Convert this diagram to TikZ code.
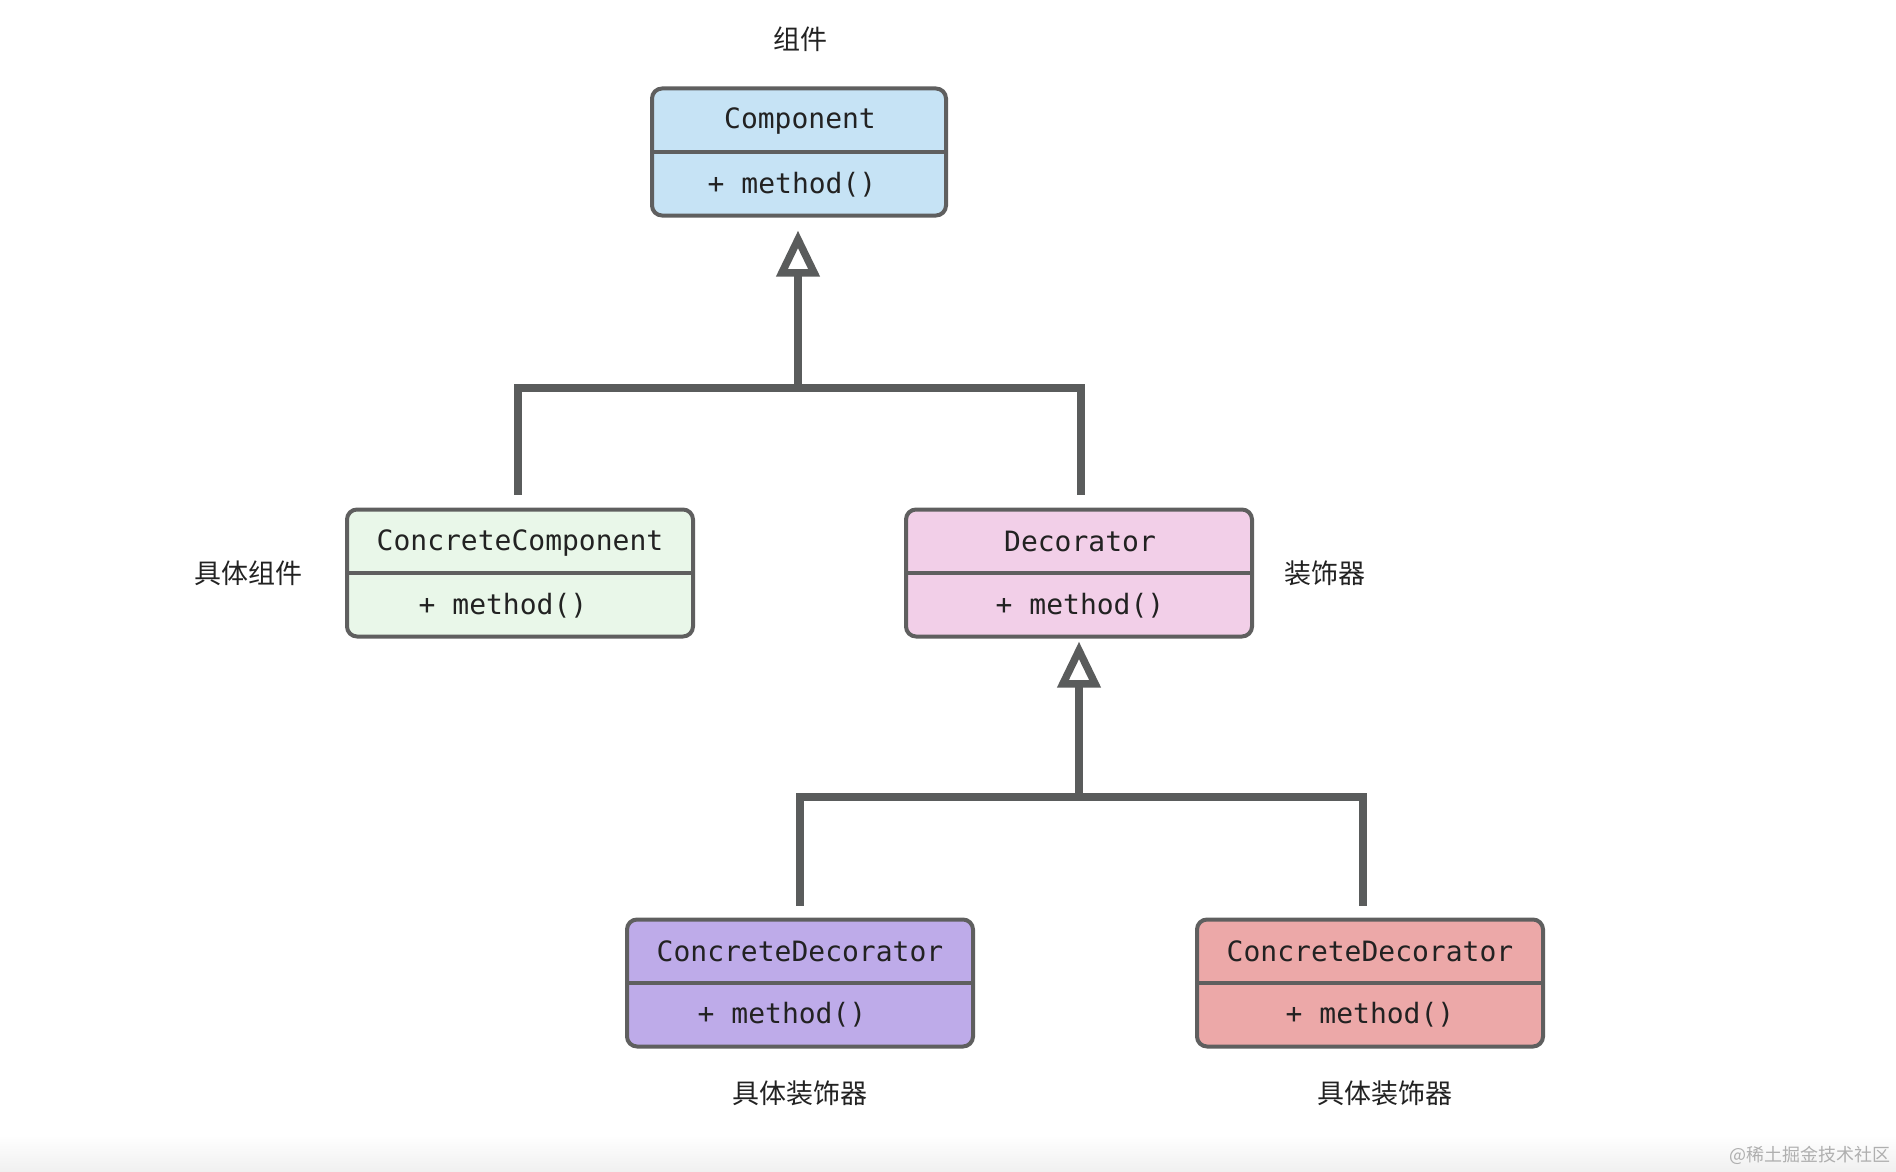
\documentclass[tikz,border=0pt]{standalone}
\usepackage{fontspec}
\setmonofont{DejaVu Sans Mono}
\newfontfamily\cjk{Noto Sans CJK SC}
\usetikzlibrary{arrows.meta, positioning, calc}
\definecolor{boxgray}{RGB}{95,95,95}
\definecolor{linkgray}{RGB}{90,92,92}
\definecolor{txtdark}{RGB}{34,34,34}
\definecolor{wmgray}{RGB}{175,175,175}
\definecolor{hdrblue}{RGB}{198,227,245}
\definecolor{hdrgreen}{RGB}{233,247,233}
\definecolor{hdrpink}{RGB}{242,207,232}
\definecolor{hdrpurple}{RGB}{190,171,233}
\definecolor{hdrred}{RGB}{236,168,168}
\tikzset{
  classbox/.style={rectangle, draw=boxgray, line width=2pt,
    rounded corners=5pt, minimum width=173pt, minimum height=63.5pt,
    inner sep=0pt},
  classtext/.style={font=\ttfamily\fontsize{14}{16}\selectfont,
    text=txtdark, inner sep=0pt},
  note/.style={font=\cjk\fontsize{13.5}{16}\selectfont, text=txtdark,
    inner sep=0pt},
  divider/.style={draw=boxgray, line width=2pt},
  link/.style={draw=linkgray, line width=3.75pt},
  inherit/.style={link, -{Triangle[open, length=23pt, width=21pt]}}
}

\begin{document}
\begin{tikzpicture}[x=0.5pt, y=-0.5pt]
  \useasboundingbox (0,0) rectangle (1896,1172);
  \shade[top color=white, bottom color=black!6] (0,1135) rectangle (1896,1172);

  % Class boxes
  \node[classbox, fill=hdrblue, minimum width=147pt] (comp) at (799,152) {};
  \node[classbox, fill=hdrgreen] (ccomp) at (520,573) {};
  \node[classbox, fill=hdrpink] (deco) at (1079,573) {};
  \node[classbox, fill=hdrpurple] (cdeca) at (800,983) {};
  \node[classbox, fill=hdrred] (cdecb) at (1370,983) {};

  % Dividers
  \foreach \c in {comp, ccomp, deco, cdeca, cdecb}
    \draw[divider] (\c.west) -- (\c.east);

  % Box texts
  \node[classtext] (compname) at (800,121) {Component};
  \node[classtext] (compmeth) at (792,185) {+ method()};
  \node[classtext] (ccompname) at (520,543) {ConcreteComponent};
  \node[classtext] (ccompmeth) at (503,606) {+ method()};
  \node[classtext] (deconame) at (1080,541) {Decorator};
  \node[classtext] (decometh) at (1080,606) {+ method()};
  \node[classtext] (cdecaname) at (800,951) {ConcreteDecorator};
  \node[classtext] (cdecameth) at (782,1015) {+ method()};
  \node[classtext] (cdecbname) at (1370,951) {ConcreteDecorator};
  \node[classtext] (cdecbmeth) at (1370,1015) {+ method()};

  % Role labels
  \node[note] (compnote) at (800,39) {组件};
  \node[note] (ccompnote) at (248,573) {具体组件};
  \node[note] (deconote) at (1325,573) {装饰器};
  \node[note] (cdecanote) at (800,1093) {具体装饰器};
  \node[note] (cdecbnote) at (1385,1093) {具体装饰器};

  % Inheritance
  \coordinate (joinA) at (798,388);
  \coordinate (joinB) at (1079,797);
  \draw[link] ([xshift=-1pt, yshift=6.5pt]ccomp.north) |- (joinA)
    -| ([xshift=1pt, yshift=6.5pt]deco.north);
  \draw[inherit] (joinA) -- ([xshift=-0.5pt, yshift=-6.5pt]comp.south);
  \draw[link] ([yshift=6pt]cdeca.north) |- (joinB)
    -| ([xshift=-3.5pt, yshift=6pt]cdecb.north);
  \draw[inherit] (joinB) -- ([yshift=-1.5pt]deco.south);

  % Watermark
  \node[font=\cjk\fontsize{9}{10}\selectfont, text=wmgray, inner sep=0pt]
    (mark) at (1810,1155) {@稀土掘金技术社区};
\end{tikzpicture}
\end{document}
